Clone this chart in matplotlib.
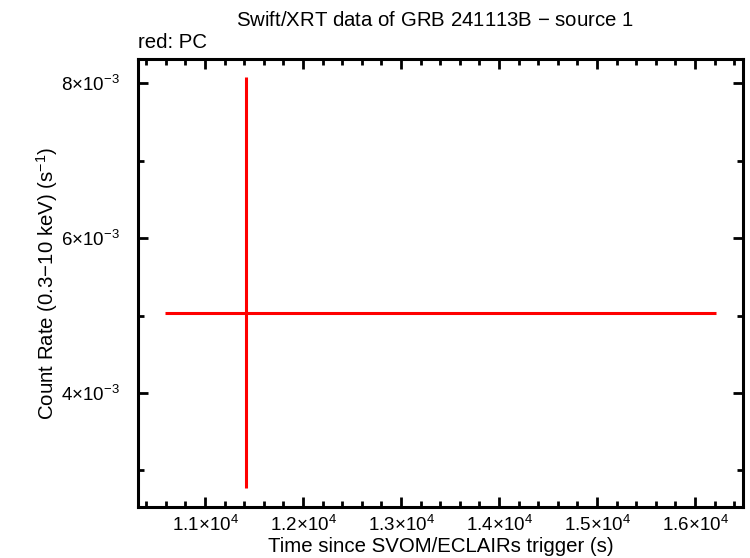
import matplotlib
matplotlib.use("Agg")
import matplotlib.pyplot as plt
from matplotlib.ticker import MultipleLocator, FuncFormatter

plt.rcParams['font.family'] = ['Liberation Sans', 'DejaVu Sans']
plt.rcParams['mathtext.fontset'] = 'custom'
plt.rcParams['mathtext.rm'] = 'Liberation Sans'
plt.rcParams['mathtext.it'] = 'Liberation Sans'

# PC mode data point
t = [11418]
t_lo = [10592]
t_hi = [16214]
rate = [5.032e-3]
rate_lo = [2.77e-3]
rate_hi = [8.077e-3]

xerr = [[t[0] - t_lo[0]], [t_hi[0] - t[0]]]
yerr = [[rate[0] - rate_lo[0]], [rate_hi[0] - rate[0]]]

fig = plt.figure(figsize=(7.5, 5.58), dpi=100)
ax = fig.add_axes([138 / 750, 1 - 507 / 558, (743 - 138) / 750, (507 - 59) / 558])

ax.errorbar(t, rate, xerr=xerr, yerr=yerr, fmt='none', ecolor='#ff0000',
            elinewidth=2.2, capsize=0)

ax.set_xlim(10316, 16490)
ax.set_ylim(2.529e-3, 8.31e-3)

ax.xaxis.set_major_locator(MultipleLocator(1000))
ax.xaxis.set_minor_locator(MultipleLocator(200))
ax.yaxis.set_major_locator(MultipleLocator(2e-3))
ax.yaxis.set_minor_locator(MultipleLocator(1e-3))


def sci(v, pos):
    if v == 0:
        return '0'
    exp = 0
    m = v
    while abs(m) >= 10:
        m /= 10
        exp += 1
    while abs(m) < 1:
        m *= 10
        exp -= 1
    ms = ('%.1f' % m).rstrip('0').rstrip('.')
    return r'$%s{\times}10^{%d}$' % (ms, exp)


ax.xaxis.set_major_formatter(FuncFormatter(sci))
ax.yaxis.set_major_formatter(FuncFormatter(sci))

for s in ax.spines.values():
    s.set_linewidth(2.2)
ax.tick_params(which='both', direction='in', top=True, right=True, width=2.0,
               labelsize=13.5)
ax.tick_params(axis='y', pad=13)
ax.tick_params(axis='x', pad=6)
ax.tick_params(which='major', length=7)
ax.tick_params(which='minor', length=4)

ax.set_xlabel('Time since SVOM/ECLAIRs trigger (s)', fontsize=14.7, labelpad=1)
ax.set_ylabel(r'Count Rate (0.3$-$10 keV) (s$^{-1}$)', fontsize=14.7, labelpad=1)
fig.text(435 / 750, 1 - 20 / 558, r'Swift/XRT data of GRB 241113B $-$ source 1',
         ha='center', va='center', fontsize=14.7)
fig.text(138 / 750, 1 - 42 / 558, 'red: PC', ha='left', va='center', fontsize=14.7)

fig.savefig('out.png', dpi=100)
